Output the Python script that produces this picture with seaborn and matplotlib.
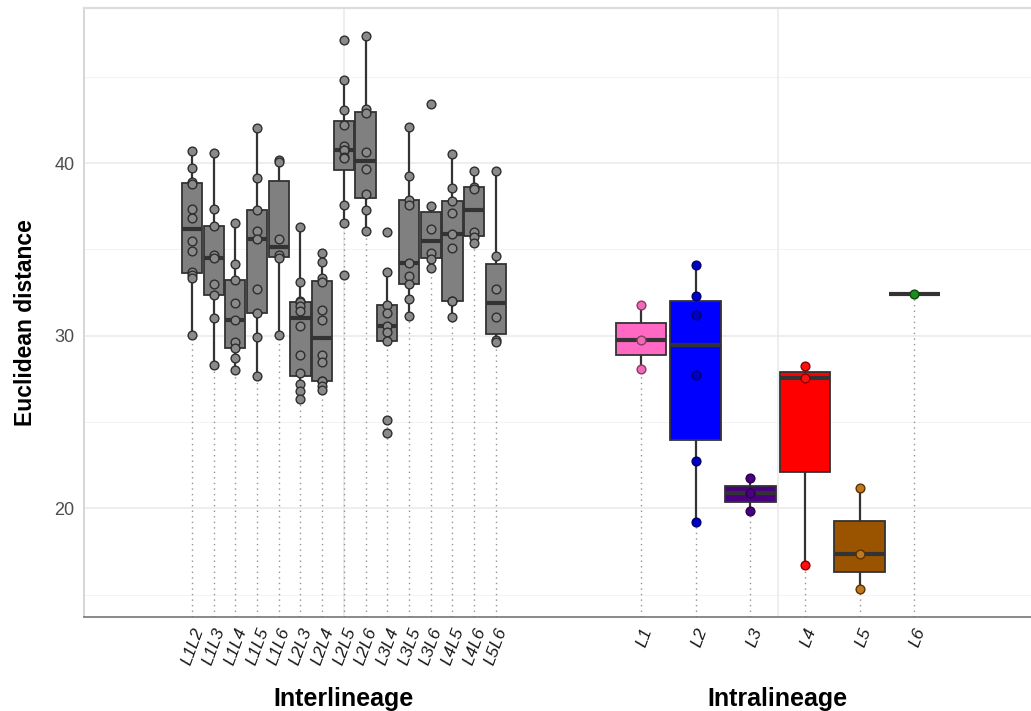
import numpy as np
import pandas as pd
import matplotlib
matplotlib.use("Agg")
import matplotlib.pyplot as plt
import matplotlib.transforms as mtransforms
from matplotlib import cbook
import seaborn as sns

# ---------------- data ----------------
inter_labels = ["L1L2", "L1L3", "L1L4", "L1L5", "L1L6", "L2L3", "L2L4", "L2L5",
                "L2L6", "L3L4", "L3L5", "L3L6", "L4L5", "L4L6", "L5L6"]
L1L2 = [40.71, 39.73, 38.92, 38.8, 37.34, 36.84, 35.49, 34.93, 33.68, 33.5, 33.35, 30.06]
L1L3 = [40.58, 37.32, 36.36, 34.68, 34.53, 32.99, 32.33, 31.02, 28.30]
L1L4 = [36.51, 34.14, 33.25, 31.89, 30.91, 29.64, 29.3, 28.71, 28.03]
L1L5 = [42.02, 39.15, 37.28, 36.09, 35.59, 32.68, 31.31, 29.90, 27.69]
L1L6 = [40.17, 40.06, 35.61, 34.68, 34.53, 30.02]
L2L3 = [36.30, 33.12, 32.0, 31.93, 31.70, 31.46, 30.54, 28.86, 27.84, 27.23, 26.82, 26.34]
L2L4 = [34.78, 34.29, 33.33, 33.1, 31.49, 30.89, 28.86, 28.47, 27.36, 27.36, 27.07, 26.88]
L2L5 = [47.15, 44.80, 43.07, 42.20, 40.98, 40.75, 40.75, 40.37, 40.27, 37.57, 36.51, 33.49]
L2L6 = [47.36, 43.16, 42.91, 40.62, 39.66, 38.21, 37.28, 36.07]
L3L4 = [36.03, 33.72, 31.79, 31.31, 30.54, 30.21, 29.71, 25.14, 24.38]
L3L5 = [42.10, 39.25, 37.86, 37.57, 34.20, 33.47, 32.99, 32.12, 31.17]
L3L6 = [43.45, 37.51, 36.16, 34.82, 34.43, 33.95]
L4L5 = [40.52, 38.57, 37.82, 37.13, 35.88, 35.11, 32.02, 32.02, 31.06]
L4L6 = [39.54, 38.63, 38.5, 36.03, 35.70, 35.39]
L5L6 = [39.54, 34.62, 32.70, 31.06, 29.77, 29.62]
inter_values = [L1L2, L1L3, L1L4, L1L5, L1L6, L2L3, L2L4, L2L5,
                L2L6, L3L4, L3L5, L3L6, L4L5, L4L6, L5L6]

intra_labels = ["L1", "L2", "L3", "L4", "L5", "L6"]
L1 = [31.77, 29.75, 28.07]
L2 = [34.10, 32.31, 31.21, 27.75, 22.73, 19.21]
L3 = [21.73, 20.90, 19.84]
L4 = [28.23, 27.55, 16.71]
L5 = [21.16, 17.34, 15.32]
L6 = [32.39]
intra_values = [L1, L2, L3, L4, L5, L6]

y_ticks = [20, 30, 40]
y_minor = [15, 25, 35, 45]
group_titles = ["Interlineage", "Intralineage"]

# ---------------- style / layout ----------------
inter_pos = [float(i) for i in range(15)]
intra_pos = [20.69 + 2.516 * j for j in range(6)]
box_fill = {"L1": "#FF69C4", "L2": "#0000FF", "L3": "#4B0082",
            "L4": "#FF0000", "L5": "#9A5400", "L6": "#1E8B1E"}
pt_fill = {"L1": "#F06AB6", "L2": "#0000C8", "L3": "#4A0080",
           "L4": "#FF1010", "L5": "#C07820", "L6": "#1E8B1E"}
pt_edge = {"L1": "#8A3A66", "L2": "#00006A", "L3": "#2A0048",
           "L4": "#8A0000", "L5": "#5A3300", "L6": "#0A4A0A"}

sns.set_style("white")
plt.rcParams["font.family"] = ["Liberation Sans", "DejaVu Sans"]

inter_df = pd.DataFrame([(lab, p, v) for lab, p, vals in zip(inter_labels, inter_pos, inter_values)
                         for v in vals], columns=["group", "pos", "value"])
intra_df = pd.DataFrame([(lab, p, v) for lab, p, vals in zip(intra_labels, intra_pos, intra_values)
                         for v in vals], columns=["group", "pos", "value"])

fig = plt.figure(figsize=(10.31, 7.11), dpi=100)
ax = fig.add_axes([84 / 1031, 1 - 617.3 / 711, 1 - 84 / 1031, (617.3 - 8.3) / 711])

ylo, yhi = 13.685, 48.97
xlo, xhi = -4.97, 38.65

# gridlines
for v in y_ticks:
    ax.axhline(v, color="#e9e9e9", lw=1.1, zorder=0)
for v in y_minor:
    ax.axhline(v, color="#f3f3f3", lw=0.7, zorder=0)
for v in [7, 27]:
    ax.axvline(v, color="#e9e9e9", lw=1.1, zorder=0)

# dotted drop lines from lower whisker to the bottom
for p, vals in list(zip(inter_pos, inter_values)) + list(zip(intra_pos, intra_values)):
    lo = cbook.boxplot_stats(np.array(vals))[0]["whislo"]
    ax.vlines(p, ylo, lo, colors="#939393", lw=1.0, linestyles=(0, (1, 3)), zorder=0.5)

box_kw = dict(native_scale=True, width=0.93, showfliers=False, showcaps=False,
              linecolor="#333333", linewidth=1.3,
              medianprops=dict(color="#333333", linewidth=3),
              whiskerprops=dict(color="#333333", linewidth=1.6))

sns.boxplot(data=inter_df, x="pos", y="value", color="#808080", saturation=1, ax=ax, **box_kw)
sns.boxplot(data=intra_df, x="pos", y="value", hue="group", palette=box_fill,
            saturation=1, dodge=False, legend=False, ax=ax, **box_kw)

sns.stripplot(data=inter_df, x="pos", y="value", native_scale=True, jitter=False,
              color="#8a8a8a", edgecolor="#2e2e2e", linewidth=1.0, size=6.3, ax=ax, zorder=5)
for lab in intra_labels:
    sub = intra_df[intra_df["group"] == lab]
    sns.stripplot(data=sub, x="pos", y="value", native_scale=True, jitter=False,
                  color=pt_fill[lab], edgecolor=pt_edge[lab], linewidth=1.0, size=6.3,
                  ax=ax, zorder=5)

ax.set_xlim(xlo, xhi)
ax.set_ylim(ylo, yhi)
ax.set_yticks(y_ticks)
ax.set_yticklabels([str(t) for t in y_ticks], fontsize=13, color="#4d4d4d")
ax.tick_params(axis="y", length=4, width=1, color="#b0b0b0", pad=3)
ax.set_xticks(inter_pos + intra_pos)
ax.set_xticklabels(inter_labels + intra_labels, rotation=70, fontsize=12.5, style="italic",
                   color="#1a1a1a", ha="right", va="top", rotation_mode="anchor")
ax.tick_params(axis="x", length=0, pad=6)
ax.set_xlabel("")
ax.set_ylabel("")

ax.spines["right"].set_visible(False)
ax.spines["left"].set_color("#cfcfcf")
ax.spines["left"].set_linewidth(1.2)
ax.spines["top"].set_color("#dcdcdc")
ax.spines["top"].set_linewidth(1.6)
ax.spines["bottom"].set_color("#6a6a6a")
ax.spines["bottom"].set_linewidth(1.1)

ax.text(-0.062, 0.4836, "Euclidean distance", transform=ax.transAxes, rotation=90,
        ha="center", va="center", fontsize=16.5, fontweight="bold", color="black")

trans = mtransforms.blended_transform_factory(ax.transData, ax.transAxes)
ax.text(np.mean(inter_pos), -0.134, group_titles[0], transform=trans, ha="center", va="center",
        fontsize=18, fontweight="bold", color="black")
ax.text(np.mean(intra_pos), -0.134, group_titles[1], transform=trans, ha="center", va="center",
        fontsize=18, fontweight="bold", color="black")

fig.savefig("out.png", dpi=100)
